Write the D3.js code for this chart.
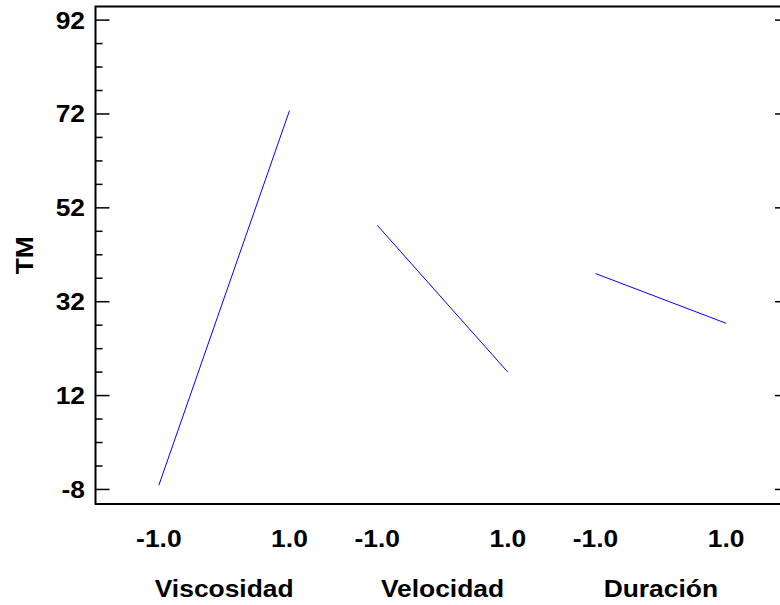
<!DOCTYPE html>
<html>
<head>
<meta charset="utf-8">
<script src="https://cdn.jsdelivr.net/npm/d3@7/dist/d3.min.js"></script>
<style>
html,body{margin:0;padding:0;background:#fff;}
text{font-family:"Liberation Sans",Arial,sans-serif;font-weight:bold;fill:#000;}
</style>
</head>
<body>
<svg id="chart" width="780" height="605"></svg>
<script>
const factors = ["Viscosidad", "Velocidad", "Duración"];
const levels = [-1, 1];
const levelLabels = ["-1.0", "1.0"];
const tmLow = [-7.1, 48.3, 38.0];
const tmHigh = [72.7, 17.0, 27.4];
const yTicks = [-8, 12, 32, 52, 72, 92];
const yMinor = d3.range(-8, 93, 5);
const yLabel = "TM";

const svg = d3.select("#chart");
const L = 95.5, R = 789, T = 6.5, B = 504;
const FS = 24, SX = 1.1;

const y = d3.scaleLinear().domain([-11.1, 94.9]).range([B, T]);
const xF = d3.scaleBand().domain(factors).range([115, 770]).padding(0);
const xL = d3.scaleLinear().domain([-1, 1]).range([-65.3, 65.3]);
const xPos = (f, l) => xF(f) + xF.bandwidth() / 2 + xL(l);

function label(x, yy, txt, anchor, rot) {
  const g = svg.append("g").attr("transform",
    `translate(${x},${yy})` + (rot ? ` rotate(${rot})` : "") + ` scale(${SX},1)`);
  return g.append("text").attr("text-anchor", anchor).attr("font-size", FS).text(txt);
}

// frame
svg.append("rect").attr("x", L).attr("y", T).attr("width", R - L).attr("height", B - T)
  .attr("fill", "none").attr("stroke", "#000").attr("stroke-width", 2);

// left ticks
svg.selectAll(".minL").data(yMinor).enter().append("line")
  .attr("x1", L).attr("x2", d => yTicks.includes(d) ? L + 14 : L + 7)
  .attr("y1", d => y(d)).attr("y2", d => y(d))
  .attr("stroke", "#000").attr("stroke-width", 1.5);
// right ticks
svg.selectAll(".majR").data(yTicks).enter().append("line")
  .attr("x1", R).attr("x2", R - 14)
  .attr("y1", d => y(d)).attr("y2", d => y(d))
  .attr("stroke", "#000").attr("stroke-width", 1.5);

// y tick labels
yTicks.forEach(d => label(85, y(d) + 8.5, d, "end"));

// y axis title
label(33, (T + B) / 2, yLabel, "middle", -90);

// x tick labels and factor names
factors.forEach((f, i) => {
  levels.forEach((l, j) => label(xPos(f, l), 547, levelLabels[j], "middle"));
  label(xF(f) + xF.bandwidth() / 2, 597, f, "middle");
});

// effect lines
factors.forEach((f, i) => {
  svg.append("line")
    .attr("x1", xPos(f, -1)).attr("y1", y(tmLow[i]))
    .attr("x2", xPos(f, 1)).attr("y2", y(tmHigh[i]))
    .attr("stroke", "#0000ff").attr("stroke-width", 1);
});
</script>
</body>
</html>
